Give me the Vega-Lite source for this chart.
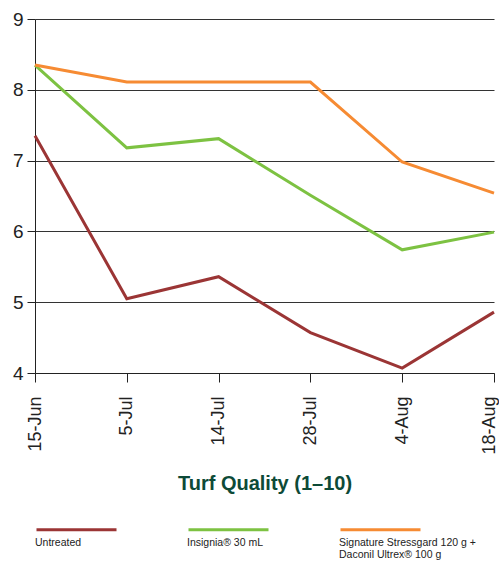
{
  "$schema": "https://vega.github.io/schema/vega-lite/v6.json",
  "width": 459,
  "height": 354,
  "autosize": {"type": "none"},
  "padding": {"left": 35, "top": 19, "right": 5, "bottom": 192},
  "background": "white",
  "config": {
    "view": {"stroke": null},
    "font": "Liberation Sans"
  },
  "data": {
    "values": [
      {"date": "15-Jun", "series": "Untreated", "value": 7.35},
      {"date": "5-Jul", "series": "Untreated", "value": 5.05},
      {"date": "14-Jul", "series": "Untreated", "value": 5.36},
      {"date": "28-Jul", "series": "Untreated", "value": 4.57},
      {"date": "4-Aug", "series": "Untreated", "value": 4.07},
      {"date": "18-Aug", "series": "Untreated", "value": 4.86},
      {"date": "15-Jun", "series": "Insignia® 30 mL", "value": 8.35},
      {"date": "5-Jul", "series": "Insignia® 30 mL", "value": 7.18},
      {"date": "14-Jul", "series": "Insignia® 30 mL", "value": 7.31},
      {"date": "28-Jul", "series": "Insignia® 30 mL", "value": 6.51},
      {"date": "4-Aug", "series": "Insignia® 30 mL", "value": 5.74},
      {"date": "18-Aug", "series": "Insignia® 30 mL", "value": 5.99},
      {"date": "15-Jun", "series": "Signature Stressgard 120 g + Daconil Ultrex® 100 g", "value": 8.35},
      {"date": "5-Jul", "series": "Signature Stressgard 120 g + Daconil Ultrex® 100 g", "value": 8.11},
      {"date": "14-Jul", "series": "Signature Stressgard 120 g + Daconil Ultrex® 100 g", "value": 8.11},
      {"date": "28-Jul", "series": "Signature Stressgard 120 g + Daconil Ultrex® 100 g", "value": 8.11},
      {"date": "4-Aug", "series": "Signature Stressgard 120 g + Daconil Ultrex® 100 g", "value": 6.98},
      {"date": "18-Aug", "series": "Signature Stressgard 120 g + Daconil Ultrex® 100 g", "value": 6.54}
    ]
  },
  "mark": {"type": "line", "strokeWidth": 3},
  "encoding": {
    "x": {
      "field": "date",
      "type": "ordinal",
      "sort": ["15-Jun", "5-Jul", "14-Jul", "28-Jul", "4-Aug", "18-Aug"],
      "scale": {"type": "point", "padding": 0},
      "axis": {
        "title": "Turf Quality (1–10)",
        "titleFontSize": 20,
        "titleFontWeight": "bold",
        "titleColor": "#0D4A37",
        "titlePadding": 19,
        "labelAngle": -90,
        "labelFontSize": 18,
        "labelColor": "#222",
        "labelPadding": 14,
        "labelOffset": {"condition": {"test": "datum.value === '18-Aug'", "value": -5}, "value": 0},
        "tickSize": 9,
        "tickColor": "#222",
        "domainColor": "#222",
        "grid": false
      }
    },
    "y": {
      "field": "value",
      "type": "quantitative",
      "scale": {"domain": [4, 9], "nice": false},
      "axis": {
        "title": null,
        "values": [4, 5, 6, 7, 8, 9],
        "labelOverlap": false,
        "labelFontSize": 19,
        "labelColor": "#222",
        "labelPadding": 4,
        "tickSize": 8,
        "tickColor": "#222",
        "domainColor": "#222",
        "gridColor": "#333",
        "gridOpacity": 1
      }
    },
    "color": {
      "field": "series",
      "type": "nominal",
      "sort": ["Untreated", "Insignia® 30 mL", "Signature Stressgard 120 g + Daconil Ultrex® 100 g"],
      "scale": {"range": ["#9B3535", "#7DC242", "#F68B33"]},
      "legend": {
        "title": null,
        "orient": "none",
        "legendX": 0,
        "legendY": 469,
        "direction": "horizontal",
        "columns": 3,
        "columnPadding": 59,
        "padding": 0,
        "symbolType": "stroke",
        "symbolSize": 6400,
        "symbolStrokeWidth": 3,
        "labelFont": "Liberation Sans",
        "labelFontSize": 10.5,
        "labelColor": "#222",
        "labelOffset": -83,
        "labelBaseline": "top",
        "labelLimit": 0,
        "labelExpr": "indexof(datum.label, 'Daconil') > 0 ? ['Signature Stressgard 120 g +', 'Daconil Ultrex® 100 g'] : [datum.label, ' ']",
        "encode": {"labels": {"update": {"dy": {"value": 8}}}}
      }
    }
  }
}
